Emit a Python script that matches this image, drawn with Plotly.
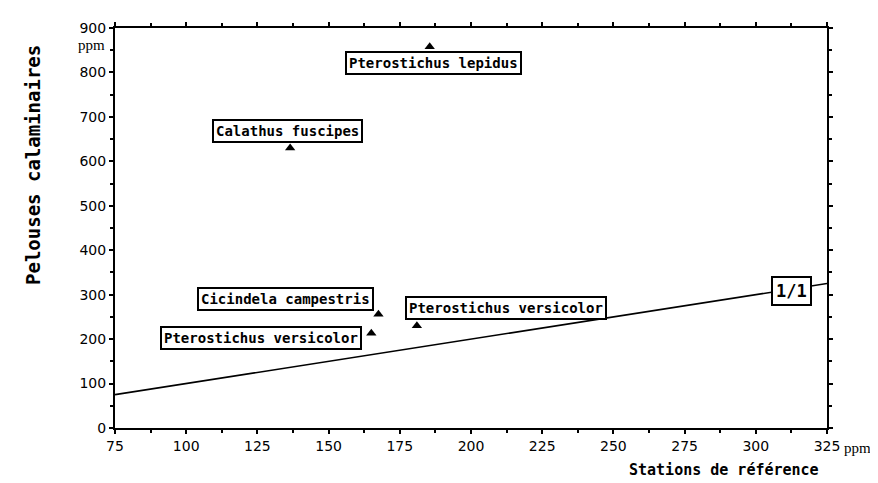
import plotly.graph_objects as go

# Data
species = ["Pterostichus lepidus", "Calathus fuscipes", "Cicindela campestris",
           "Pterostichus versicolor", "Pterostichus versicolor"]
reference_ppm = [185.5, 136.5, 167.5, 165.0, 181.0]      # x: Stations de référence
calamine_ppm = [858, 630, 256, 213, 230]                  # y: Pelouses calaminaires

# label anchor positions (data units) for each species box
label_x = [186.7, 135.7, 134.7, 126.3, 212.3]
label_y = [821, 668, 291, 203, 269]

ref_line = [75, 325]           # 1/1 line
x_ticks = [75, 100, 125, 150, 175, 200, 225, 250, 275, 300, 325]
y_ticks = [0, 100, 200, 300, 400, 500, 600, 700, 800, 900]

fig = go.Figure()

fig.add_trace(go.Scatter(x=ref_line, y=ref_line, mode="lines",
                         line=dict(color="black", width=1.6),
                         hoverinfo="skip", showlegend=False))

fig.add_trace(go.Scatter(x=reference_ppm, y=calamine_ppm, mode="markers",
                         marker=dict(symbol="triangle-up", size=9, color="black"),
                         text=species, showlegend=False))

label_font = dict(family="DejaVu Sans Mono", size=14, color="black", weight="bold")
for name, lx, ly in zip(species, label_x, label_y):
    fig.add_annotation(x=lx, y=ly, xref="x", yref="y", text=name, showarrow=False,
                       font=label_font, bgcolor="white", bordercolor="black",
                       borderwidth=2, borderpad=2)

fig.add_annotation(x=312.4, y=309, xref="x", yref="y", text="1/1", showarrow=False,
                   font=dict(family="DejaVu Sans Mono", size=17, color="black", weight="bold"),
                   bgcolor="white", bordercolor="black", borderwidth=2, borderpad=3)

# unit labels
fig.add_annotation(x=0, y=900, xref="paper", yref="y", text="ppm", showarrow=False,
                   xanchor="center", yanchor="middle", xshift=-24, yshift=-17,
                   font=dict(family="Liberation Serif", size=15, color="black"))
fig.add_annotation(x=325, y=0, xref="x", yref="paper", text="ppm", showarrow=False,
                   xanchor="center", yanchor="middle", xshift=30, yshift=-20,
                   font=dict(family="Liberation Serif", size=15, color="black"))

# axis titles
fig.add_annotation(x=0, y=0.5, xref="paper", yref="paper", text="Pelouses calaminaires",
                   showarrow=False, textangle=-90, xanchor="center", yanchor="middle",
                   xshift=-82, yshift=63,
                   font=dict(family="DejaVu Sans Mono", size=19, color="black", weight="bold"))
fig.add_annotation(x=1, y=0, xref="paper", yref="paper", text="Stations de référence",
                   showarrow=False, xanchor="right", yanchor="middle",
                   xshift=-6, yshift=-42,
                   font=dict(family="DejaVu Sans Mono", size=15, color="black", weight="bold"))

tick_font = dict(family="DejaVu Sans", size=14, color="black")
fig.update_xaxes(range=[75, 325], tickvals=x_ticks, ticks="outside", ticklen=4,
                 tickwidth=1.5, tickcolor="black", showline=True, linecolor="black",
                 linewidth=2, mirror="ticks", showgrid=False, zeroline=False,
                 tickfont=tick_font,
                 minor=dict(dtick=12.5, tick0=75, ticks="outside", ticklen=3,
                            tickcolor="black", showgrid=False))
fig.update_yaxes(range=[0, 900], tickvals=y_ticks, ticks="outside", ticklen=4,
                 tickwidth=1.5, tickcolor="black", showline=True, linecolor="black",
                 linewidth=2, mirror="ticks", showgrid=False, zeroline=False,
                 tickfont=tick_font,
                 minor=dict(dtick=50, tick0=0, ticks="outside", ticklen=3,
                            tickcolor="black", showgrid=False))

fig.update_layout(width=870, height=475, margin=dict(l=107, r=51, t=12, b=55),
                  plot_bgcolor="white", paper_bgcolor="white", showlegend=False)

fig.write_html("out.html")
